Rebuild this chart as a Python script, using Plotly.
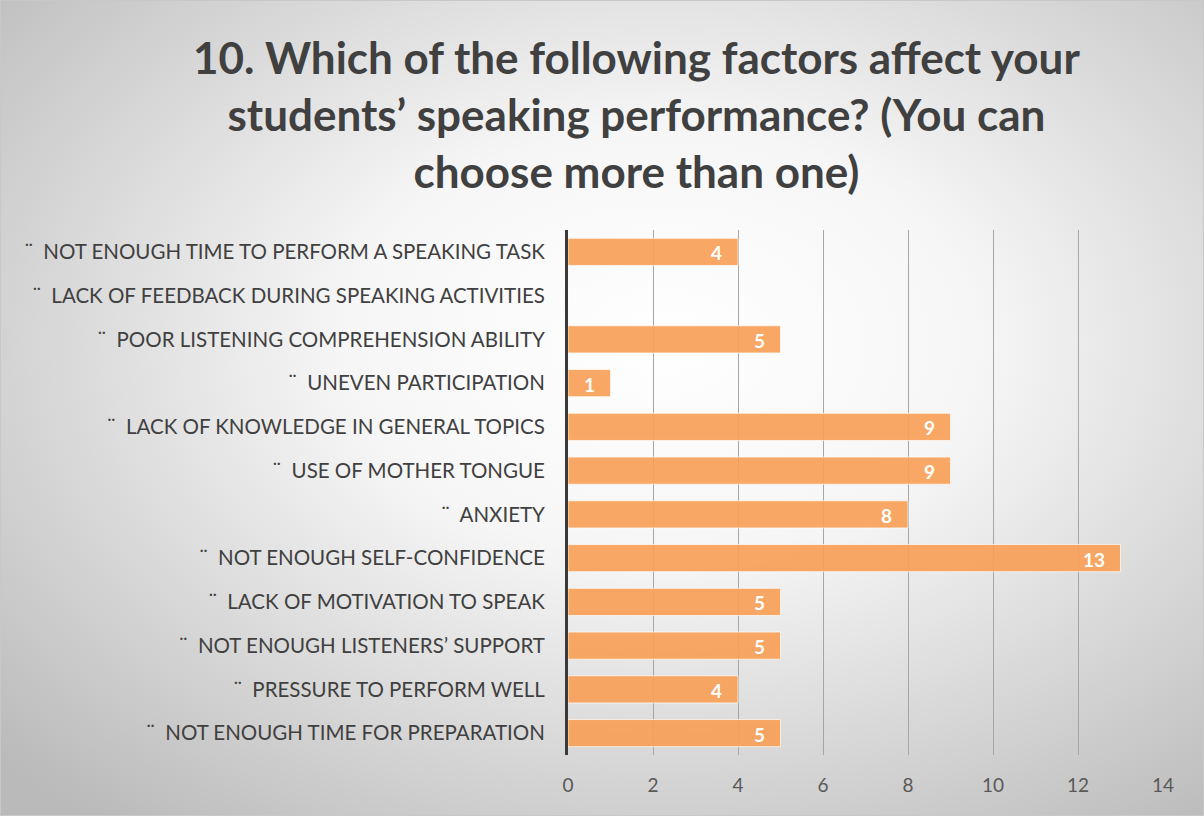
import base64
import plotly.graph_objects as go

categories = [
    "¨  NOT ENOUGH TIME TO PERFORM A SPEAKING TASK",
    "¨  LACK OF FEEDBACK DURING SPEAKING ACTIVITIES",
    "¨  POOR LISTENING COMPREHENSION ABILITY",
    "¨  UNEVEN PARTICIPATION",
    "¨  LACK OF KNOWLEDGE IN GENERAL TOPICS",
    "¨  USE OF MOTHER TONGUE",
    "¨  ANXIETY",
    "¨  NOT ENOUGH SELF-CONFIDENCE",
    "¨  LACK OF MOTIVATION TO SPEAK",
    "¨  NOT ENOUGH LISTENERS’ SUPPORT",
    "¨  PRESSURE TO PERFORM WELL",
    "¨  NOT ENOUGH TIME FOR PREPARATION",
]
values = [4, 0, 5, 1, 9, 9, 8, 13, 5, 5, 4, 5]
x_ticks = [0, 2, 4, 6, 8, 10, 12, 14]
title_text = ("10. Which of the following factors affect your<br>"
              "students’ speaking performance? (You can<br>"
              "choose more than one)")

W, H = 1204, 816
ml, mr, mt, mb = 568, 41, 230, 61
pw, ph = W - ml - mr, H - mt - mb

svg = f'''<svg xmlns="http://www.w3.org/2000/svg" width="{W}" height="{H}" viewBox="0 0 {W} {H}" preserveAspectRatio="none">
<defs><radialGradient id="g" cx="0.55" cy="0.42" r="0.75" gradientUnits="objectBoundingBox">
<stop offset="0" stop-color="#ffffff"/><stop offset="0.35" stop-color="#f6f6f6"/><stop offset="1" stop-color="#bababa"/>
</radialGradient></defs>
<rect x="0" y="0" width="{W}" height="{H}" fill="url(#g)"/>
<rect x="0.5" y="0.5" width="{W-1}" height="{H-1}" fill="none" stroke="#c8c8c8" stroke-width="1"/>
</svg>'''
bg = "data:image/svg+xml;base64," + base64.b64encode(svg.encode()).decode()

fig = go.Figure(go.Bar(
    x=values, y=categories, orientation="h",
    marker=dict(color="rgba(247,160,87,0.92)", line=dict(color="rgba(255,255,255,0.7)", width=1)),
    hoverinfo="x+y",
))

label_annotations = [
    dict(x=v, y=c, xref="x", yref="y", text=str(v), showarrow=False,
         xanchor="right", yanchor="middle", xshift=-14, yshift=-1,
         font=dict(family="Lato", size=19, color="white", weight="bold"))
    for c, v in zip(categories, values) if v
]

fig.update_layout(
    width=W, height=H,
    margin=dict(l=ml, r=mr, t=mt, b=mb),
    paper_bgcolor="rgba(0,0,0,0)", plot_bgcolor="rgba(0,0,0,0)",
    bargap=0.38,
    showlegend=False,
    annotations=[dict(text=title_text, xref="paper", yref="paper",
                      x=(636 - ml) / pw, y=1 + (mt - 114) / ph,
                      xanchor="center", yanchor="middle", showarrow=False,
                      font=dict(family="Lato", size=44, color="#404040", weight="bold"))]
                + label_annotations,
    images=[dict(source=bg, xref="paper", yref="paper", x=-ml / pw, y=1 + mt / ph,
                 sizex=W / pw, sizey=H / ph, xanchor="left", yanchor="top",
                 sizing="stretch", layer="below")],
    xaxis=dict(range=[0, 14], tickvals=x_ticks, showgrid=True, gridcolor="#a6a6a6", gridwidth=1,
               zeroline=False, showline=False, ticks="", ticklabelstandoff=17,
               tickfont=dict(family="Lato", size=19, color="#595959")),
    yaxis=dict(autorange="reversed", showline=True, linecolor="#3a3a3a", linewidth=3,
               showgrid=False, ticks="", ticklabelstandoff=16,
               tickfont=dict(family="Lato", size=20.5, color="#404040")),
)

fig.write_html("out.html", config={"displayModeBar": False},
               post_script="document.body.style.margin='0';document.body.style.overflow='hidden';")
